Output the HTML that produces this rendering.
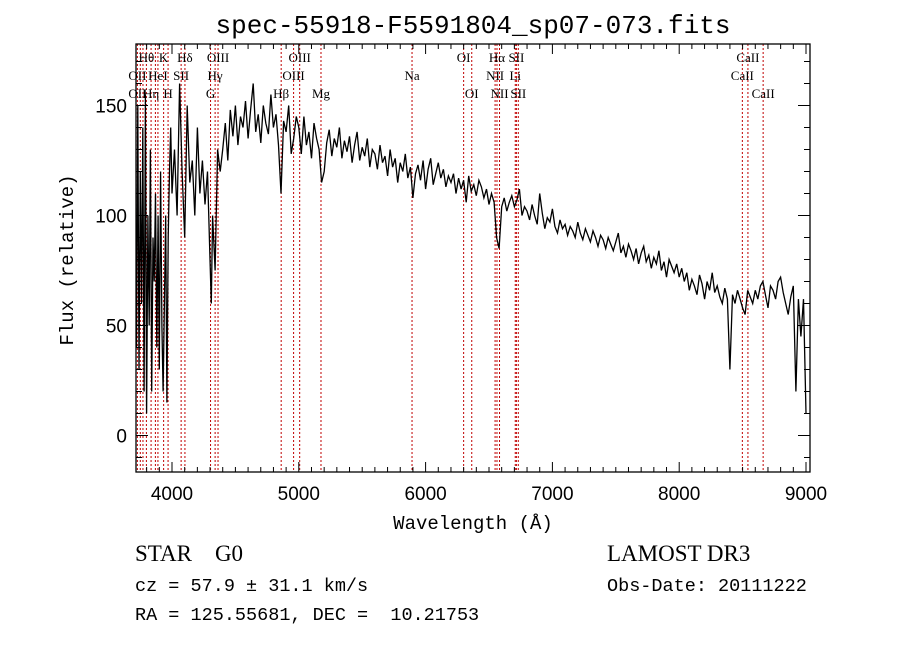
<!DOCTYPE html>
<html><head><meta charset="utf-8"><style>
body{margin:0;background:#fff;width:900px;height:649px;overflow:hidden}
svg{display:block}
text{font-family:"Liberation Sans",sans-serif;fill:#000}
.lab{font-family:"Liberation Serif",serif;font-size:13px}
.mono{font-family:"Liberation Mono",monospace}
.serif{font-family:"Liberation Serif",serif}
</style></head><body>
<svg id="chart" width="900" height="649" xmlns="http://www.w3.org/2000/svg">
<text x="473" y="33" text-anchor="middle" font-size="26" class="mono">spec-55918-F5591804_sp07-073.fits</text>
<text transform="translate(73,260) rotate(-90)" text-anchor="middle" font-size="19" class="mono">Flux (relative)</text>
<text x="473" y="529" text-anchor="middle" font-size="19" class="mono">Wavelength (Å)</text>
<text x="135" y="561" font-size="23" class="serif" xml:space="preserve">STAR    G0</text>
<text x="135" y="591" font-size="18.5" class="mono">cz = 57.9 ± 31.1 km/s</text>
<text x="135" y="620" font-size="18.5" class="mono" xml:space="preserve">RA = 125.55681, DEC =  10.21753</text>
<text x="607" y="561" font-size="23" class="serif">LAMOST DR3</text>
<text x="607" y="591" font-size="18.5" class="mono">Obs-Date: 20111222</text>
<g id="lines"></g><g id="spec"></g><g id="axes"></g>
</svg>
<script>
const blueWaves=[3720,3730,3740,3750,3760,3770,3780,3790,3800,3810,3820,3830,3840,3850,3860,3870,3880,3890,3900,3910,3920,3930,3940,3950,3960,3970,3980,3990,4000,
4020,4040,4060,4080,4100,4120,4140,4160,4180,4200,4220,4240,4260,4280,4300,4310,4320,4340,4360,4380];
const blueFlux=[40,150,30,120,60,140,20,155,10,100,50,130,20,90,70,110,40,100,30,120,50,20,60,100,15,90,120,140,110,
130,100,160,120,90,150,115,125,100,140,110,125,105,120,80,60,100,75,130,120];
const redStart=4400, redStep=20;
const redFlux=[130,142,125,148,136,150,132,145,140,152,135,148,160,138,146,133,150,142,137,155,140,146,132,110,143,138,150,128,135,145,
140,128,145,132,138,126,142,135,130,115,120,133,139,127,135,131,140,126,134,129,136,124,132,138,125,131,127,135,122,130,
128,121,132,124,127,118,130,122,126,115,124,120,128,117,122,108,119,123,116,125,112,121,126,114,119,124,117,121,113,118,
115,119,110,117,112,116,106,118,111,114,109,116,113,108,112,105,110,106,90,85,104,108,102,106,109,104,107,112,100,104,
102,98,105,100,96,110,101,94,99,97,103,95,92,98,94,96,91,95,93,90,97,92,89,94,91,88,93,90,86,91,
89,85,90,87,84,88,92,83,86,81,87,84,80,85,78,83,86,79,82,76,81,78,84,75,79,72,80,77,74,78,
72,76,70,74,66,71,68,64,73,69,62,70,66,74,65,68,63,60,67,62,30,64,60,66,62,58,55,66,63,60,
66,62,68,70,64,58,68,66,62,70,72,65,60,55,63,68,20,62,45,62,10];
const lineWaves=[3727,3750,3771,3798,3835,3869,3889,3934,3969,4072,4102,4304,4340,4363,4861,4959,5007,5175,5893,6300,6364,6548,6563,6583,6707,6716,6731,8498,8542,8662];
const labelNames=["Hθ","K","Hδ","OIII","OIII","OI","Hα","SII","CaII","OII","HeI","SII","Hγ","OIII","Na","NII","Li","CaII","OII","Hη","H","G","Hβ","Mg","OI","NII","SII","CaII"];
const labelWaves=[3798,3934,4102,4363,5007,6300,6563,6716,8542,3727,3889,4072,4340,4959,5893,6548,6707,8498,3727,3835,3969,4304,4861,5175,6364,6583,6731,8662];
const labelRows=[0,0,0,0,0,0,0,0,0,1,1,1,1,1,1,1,1,1,2,2,2,2,2,2,2,2,2,2];
const xTicks=[4000,5000,6000,7000,8000,9000];
const yTicks=[0,50,100,150];
const X0=136,X1=810,Y0=44,Y1=472;
const xs=w=>172+(w-4000)*0.1268;
const ys=v=>435.5-v*2.2;
const NS="http://www.w3.org/2000/svg";
function mk(t,a,p){const e=document.createElementNS(NS,t);for(const k in a)e.setAttribute(k,a[k]);p.appendChild(e);return e;}
const gl=document.getElementById('lines'),gs=document.getElementById('spec'),ga=document.getElementById('axes');
lineWaves.forEach(w=>{const l=mk('line',{x1:xs(w),x2:xs(w),y1:Y0,y2:Y1,stroke:'#c00000','stroke-width':1,'stroke-dasharray':'2,2'},gl);

});
labelNames.forEach((n,i)=>{const t=mk('text',{x:xs(labelWaves[i]),y:62+labelRows[i]*18,'text-anchor':'middle',class:'lab'},gl);t.textContent=n;

});
const pts=blueWaves.map((w,i)=>[w,blueFlux[i]]).concat(redFlux.map((v,i)=>[redStart+redStep*i,v]));
const cp=mk('clipPath',{id:'cp'},gs);mk('rect',{x:X0,y:Y0,width:X1-X0,height:Y1-Y0},cp);
const pl=mk('polyline',{points:pts.map(p=>xs(p[0]).toFixed(1)+','+ys(p[1]).toFixed(1)).join(' '),fill:'none',stroke:'#000','stroke-width':1.3,'clip-path':'url(#cp)'},gs);


const fr=mk('rect',{x:X0,y:Y0,width:X1-X0,height:Y1-Y0,fill:'none',stroke:'#000','stroke-width':1.3},ga);


for(let w=3800;w<=9000;w+=100){const x=xs(w);if(x<X0||x>X1)continue;const L=(w%1000===0)?10:5;
mk('line',{x1:x,x2:x,y1:Y1,y2:Y1-L,stroke:'#000'},ga);mk('line',{x1:x,x2:x,y1:Y0,y2:Y0+L,stroke:'#000'},ga);}
for(let v=-10;v<=170;v+=10){const y=ys(v);if(y<Y0||y>Y1)continue;const L=(v%50===0)?12:6;
mk('line',{x1:X0,x2:X0+L,y1:y,y2:y,stroke:'#000'},ga);mk('line',{x1:X1,x2:X1-L,y1:y,y2:y,stroke:'#000'},ga);}
xTicks.forEach(w=>{const t=mk('text',{x:xs(w),y:500,'text-anchor':'middle','font-size':19},ga);t.textContent=w;

});
yTicks.forEach(v=>{const t=mk('text',{x:127,y:ys(v)+7,'text-anchor':'end','font-size':19},ga);t.textContent=v;

});
</script>
</body></html>
